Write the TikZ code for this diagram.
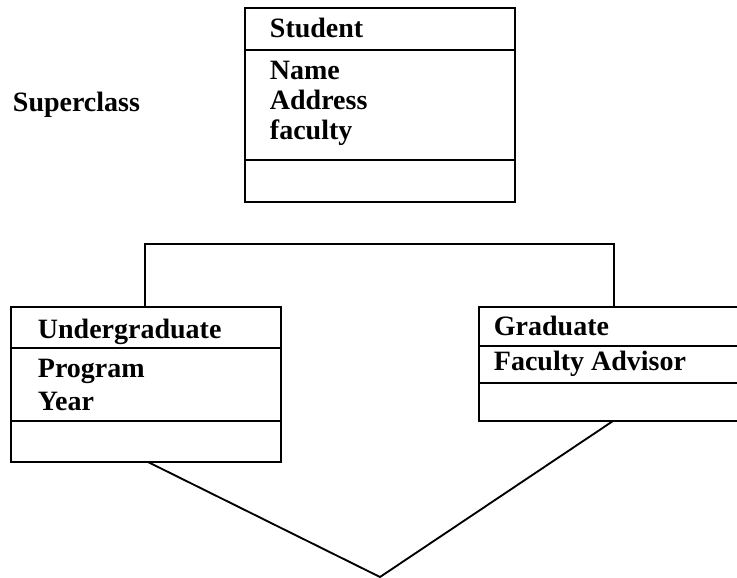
\documentclass[tikz,border=0pt]{standalone}
\usepackage{fontspec}
\setmainfont{Liberation Serif}
\begin{document}
\begin{tikzpicture}[x=0.75pt,y=-0.75pt,line width=1.4pt,
  lbl/.style={anchor=base west,inner sep=0pt,font=\fontsize{21}{25}\selectfont\bfseries},
  conn/.style={line width=1.4pt,line cap=round,line join=miter}]
\useasboundingbox (0,0) rectangle (737,577);
% Student box
\draw (245,8) rectangle (515,202);
\draw (245,50) -- (515,50);
\draw (245,160) -- (515,160);
\node[lbl] (student) at (269,38) {Student};
\node[lbl] (sname) at (269,80) {Name};
\node[lbl] (saddr) at (269,110) {Address};
\node[lbl] (sfac) at (269,140) {faculty};
% Superclass label
\node[lbl] (super) at (12,112) {Superclass};
% Undergraduate box
\draw (11,307) rectangle (281,462);
\draw (11,348) -- (281,348);
\draw (11,421) -- (281,421);
\node[lbl] (ug) at (37,338) {Undergraduate};
\node[lbl] (ugprog) at (37,377) {Program};
\node[lbl] (ugyear) at (37,410) {Year};
% Graduate box (right edge cut off)
\draw (745,307) -- (479,307) -- (479,421) -- (745,421);
\draw (479,346) -- (745,346);
\draw (479,383) -- (745,383);
\node[lbl] (gr) at (493,335) {Graduate};
\node[lbl] (grfa) at (493,370) {Faculty Advisor};
% connectors
\coordinate (ugTop) at (145,307);
\coordinate (grTop) at (614,307);
\coordinate (ugBot) at (148,462);
\coordinate (grBot) at (613,421);
\coordinate (apex) at (380,577);
\draw[conn] (ugTop) -- (145,244) -- (614,244) -- (grTop);
\draw[conn] (ugBot) -- (apex) -- (grBot);
\end{tikzpicture}
\end{document}
